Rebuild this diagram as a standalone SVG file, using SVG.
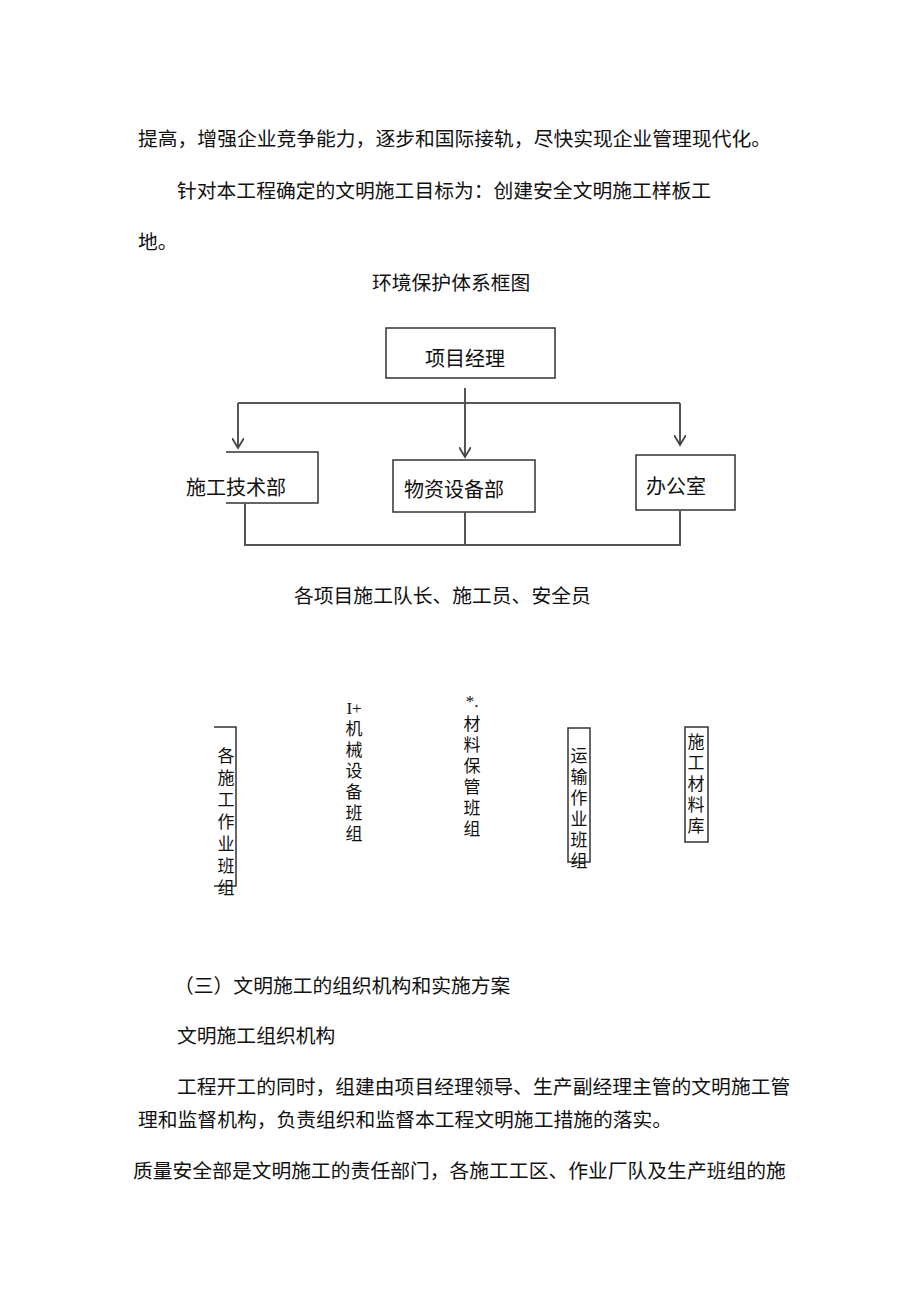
<svg xmlns="http://www.w3.org/2000/svg" width="920" height="1301" viewBox="0 0 920 1301">
<style>
text{font-family:"Liberation Serif","Noto Sans CJK SC",serif;fill:#111}
.p{font-size:19.8px}
.n{font-size:20px}
.v{font-size:17px;text-anchor:middle}
.b{fill:none;stroke:#333;stroke-width:1.5}
.c{fill:none;stroke:#555;stroke-width:2}
</style>
<defs><marker id="a" markerWidth="12" markerHeight="12" refX="10" refY="6" orient="auto" markerUnits="userSpaceOnUse"><path d="M0,0 L10,6 L0,12" fill="none" stroke="#444" stroke-width="1.8"/></marker></defs>
<rect width="920" height="1301" fill="#fff"/>
<text class="p" x="138" y="146">提高，增强企业竞争能力，逐步和国际接轨，尽快实现企业管理现代化。</text>
<text class="p" x="177" y="198">针对本工程确定的文明施工目标为：创建安全文明施工样板工</text>
<text class="p" x="138" y="249">地。</text>
<text class="p" x="372" y="290">环境保护体系框图</text>
<g id="n1"><rect class="b" x="386" y="328" width="169" height="50"/><text class="n" x="425" y="366">项目经理</text></g>
<g id="n2"><path class="b" d="M226,452 H318 V503 H226"/><text class="n" x="186" y="495">施工技术部</text></g>
<g id="n3"><rect class="b" x="393" y="460" width="142" height="52"/><text class="n" x="404" y="497">物资设备部</text></g>
<g id="n4"><rect class="b" x="636" y="455" width="99" height="55"/><text class="n" x="646" y="494">办公室</text></g>
<g id="conn">
<path class="c" d="M238,403 H680"/>
<path class="c" d="M465,388 V457" marker-end="url(#a)"/>
<path class="c" d="M238,403 V448" marker-end="url(#a)"/>
<path class="c" d="M680,403 V445" marker-end="url(#a)"/>
<path class="c" d="M245,503 V545 H680 V510 M465,512 V545"/>
</g>
<text class="p" x="294" y="603">各项目施工队长、施工员、安全员</text>
<g id="g1"><path class="b" d="M214,727 H236 V886 H214"/><text class="v"><tspan x="226" y="762">各</tspan><tspan x="226" y="784">施</tspan><tspan x="226" y="806">工</tspan><tspan x="226" y="828">作</tspan><tspan x="226" y="850">业</tspan><tspan x="226" y="872">班</tspan></text><text class="v" x="226" y="894">组</text></g>
<g id="g2"><text class="v"><tspan x="354" y="714">I+</tspan><tspan x="354" y="735">机</tspan><tspan x="354" y="756">械</tspan><tspan x="354" y="777">设</tspan><tspan x="354" y="798">备</tspan><tspan x="354" y="819">班</tspan><tspan x="354" y="840">组</tspan></text></g>
<g id="g3"><text class="v"><tspan x="472" y="707">*.</tspan><tspan x="472" y="730">材</tspan><tspan x="472" y="751">料</tspan><tspan x="472" y="772">保</tspan><tspan x="472" y="793">管</tspan><tspan x="472" y="814">班</tspan><tspan x="472" y="835">组</tspan></text></g>
<g id="g4"><rect class="b" x="568" y="728" width="22" height="134"/><text class="v"><tspan x="579" y="762">运</tspan><tspan x="579" y="783">输</tspan><tspan x="579" y="804">作</tspan><tspan x="579" y="825">业</tspan><tspan x="579" y="846">班</tspan></text><text class="v" x="579" y="867">组</text></g>
<g id="g5"><rect class="b" x="685" y="727" width="23" height="115"/><text class="v"><tspan x="696" y="748">施</tspan><tspan x="696" y="769">工</tspan><tspan x="696" y="790">材</tspan><tspan x="696" y="811">料</tspan><tspan x="696" y="832">库</tspan></text></g>
<text class="p" x="174" y="993">（三）文明施工的组织机构和实施方案</text>
<text class="p" x="177" y="1043">文明施工组织机构</text>
<text class="p" x="177" y="1094">工程开工的同时，组建由项目经理领导、生产副经理主管的文明施工管</text>
<text class="p" x="138" y="1127">理和监督机构，负责组织和监督本工程文明施工措施的落实。</text>
<text class="p" x="133" y="1178">质量安全部是文明施工的责任部门，各施工工区、作业厂队及生产班组的施</text>
</svg>
